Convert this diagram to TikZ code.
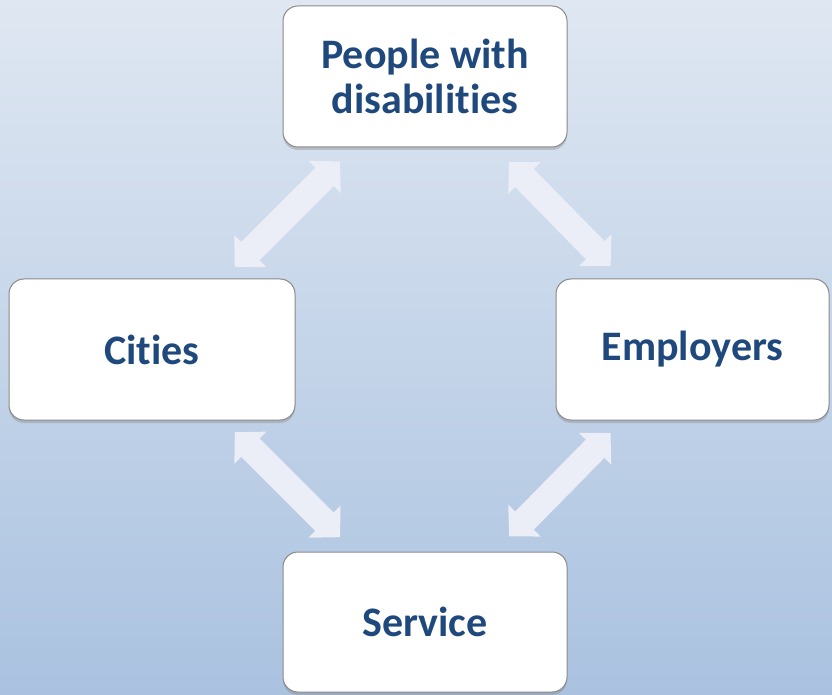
\documentclass[tikz,border=0pt]{standalone}
\usepackage{fontspec}
\setmainfont{Carlito}[Ligatures={NoCommon,NoDiscretionary}]
\usetikzlibrary{arrows.meta,shadows}
\definecolor{bgtop}{HTML}{DFE7F2}
\definecolor{bgbottom}{HTML}{AAC2E0}
\definecolor{labelblue}{HTML}{1F497D}
\definecolor{boxline}{HTML}{8A8A8A}
\definecolor{arrowfill}{HTML}{EBEEF6}
\begin{document}
\begin{tikzpicture}[x=1pt,y=1pt]
	\tikzstyle{party}=[rectangle,rounded corners=15pt,draw=boxline,line width=1pt,fill=white,
		drop shadow={shadow xshift=0pt,shadow yshift=-3pt,opacity=0.35},
		text=labelblue,font=\fontsize{42}{45}\selectfont\bfseries,align=center,inner sep=0pt]
	\tikzstyle{link}=[draw=arrowfill,line width=26pt,
		{Triangle[width=44pt,length=22pt,fill=arrowfill]}-{Triangle[width=44pt,length=22pt,fill=arrowfill]}]
	\shade[top color=bgtop,bottom color=bgbottom] (0,0) rectangle (832,694);
	\useasboundingbox (0,0) rectangle (832,694);
	\begin{scope}
		\node [party,minimum width=284pt,minimum height=141pt] (people) at (425,617.5) {People with\\disabilities};
		\node [party,minimum width=286pt,minimum height=141pt] (cities) at (152,344.5) {Cities};
		\node [party,minimum width=273pt,minimum height=141pt] (employers) at (692.5,344.5) {Employers};
		\node [party,minimum width=284pt,minimum height=140pt] (service) at (425,72) {Service};
		\path (people.center) edge [link,shorten <=120pt,shorten >=117pt] (cities.center);
		\path (people.center) edge [link,shorten <=120pt,shorten >=117pt] (employers.center);
		\path (cities.center) edge [link,shorten <=117pt,shorten >=120pt] (service.center);
		\path (employers.center) edge [link,shorten <=117pt,shorten >=120pt] (service.center);
	\end{scope}
\end{tikzpicture}
\end{document}
